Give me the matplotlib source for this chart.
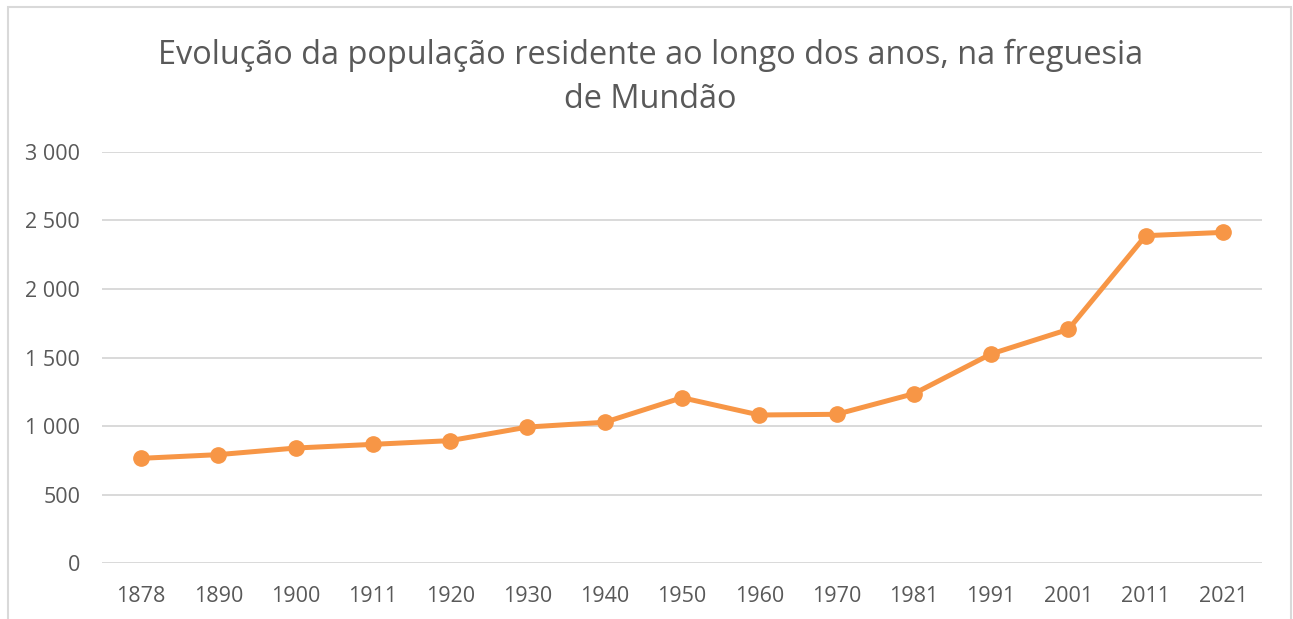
import numpy as np
import matplotlib.pyplot as plt
from matplotlib.patches import Rectangle
from matplotlib.ticker import FuncFormatter

years = ['1878', '1890', '1900', '1911', '1920', '1930', '1940', '1950',
         '1960', '1970', '1981', '1991', '2001', '2011', '2021']
population = [765, 792, 840, 867, 894, 993, 1028, 1207,
              1081, 1086, 1236, 1526, 1705, 2388, 2412]

title = 'Evolução da população residente ao longo dos anos, na freguesia\nde Mundão'

plt.rcParams['font.family'] = ['Open Sans', 'DejaVu Sans']

grey_txt = '#595959'
orange = '#F79646'

fig = plt.figure(figsize=(12.93, 6.19), dpi=100)
ax = fig.add_axes([0.0792, 0.09, 0.8965, 0.6649])

x = np.arange(len(years))
ax.plot(x, population, color=orange, lw=3.6, marker='o', ms=11,
        solid_capstyle='round', zorder=3)

ax.set_xlim(-0.5, len(years) - 0.5)
ax.set_ylim(0, 3000)
ax.set_yticks(np.arange(0, 3001, 500))
ax.yaxis.set_major_formatter(FuncFormatter(lambda v, p: f'{int(v):,}'.replace(',', ' ')))
ax.set_xticks(x)
ax.set_xticklabels(years)

ax.grid(axis='y', color='#d9d9d9', lw=1.4, zorder=0)
ax.tick_params(axis='both', length=0, labelsize=15.5, labelcolor=grey_txt)
ax.tick_params(axis='y', pad=16)
ax.tick_params(axis='x', pad=16)
for s in ax.spines.values():
    s.set_visible(False)

fig.text(0.503, 0.937, title, ha='center', va='top', fontsize=23.4,
         color=grey_txt, linespacing=1.42)

# outer chart frame
fig.patches.append(Rectangle((8 / 1293, -0.05), (1290.5 - 8) / 1293, 1.05 - 7 / 619,
                             transform=fig.transFigure, fill=False,
                             edgecolor='#d9d9d9', lw=1.5))

fig.savefig('out.png', dpi=100)
